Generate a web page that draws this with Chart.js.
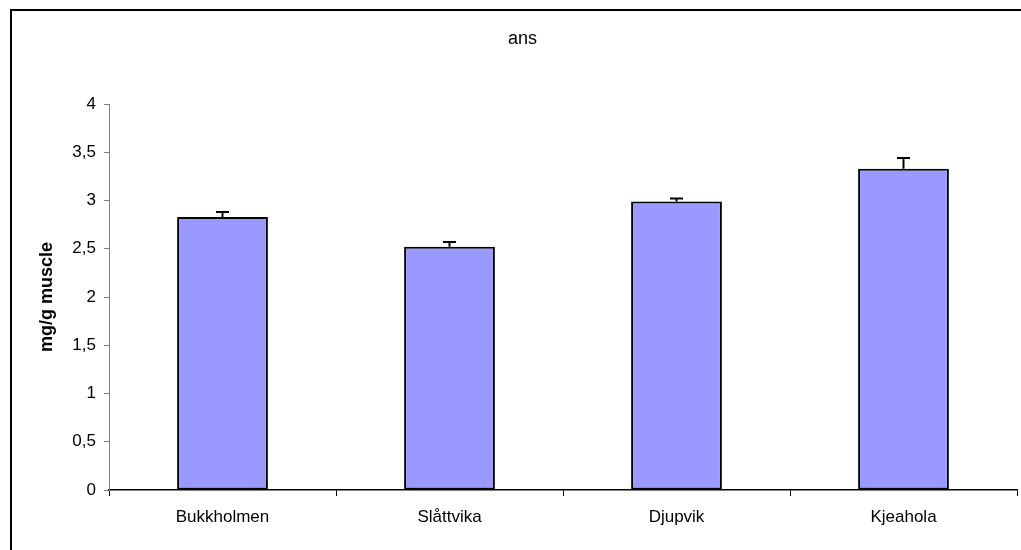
<!DOCTYPE html>
<html>
<head>
<meta charset="utf-8">
<script src="https://cdn.jsdelivr.net/npm/chart.js@4/dist/chart.umd.min.js"></script>
<style>
    html, body { margin: 0; padding: 0; background: #fff; }
    canvas { display: block; }
</style>
</head>
<body>
<canvas id="chart" width="1021" height="550"></canvas>
<script>
// data
var sites = ['Bukkholmen', 'Slåttvika', 'Djupvik', 'Kjeahola'];
var ansValues = [2.83, 2.52, 2.99, 3.33];
var ansErrors = [0.05, 0.05, 0.03, 0.11];
var yMin = 0, yMax = 4, yStep = 0.5;

var FONT = 'Arial, "Liberation Sans", sans-serif';

// outer frame (only the top and left edges are inside the picture)
var framePlugin = {
    id: 'frame',
    beforeDraw: function (chart) {
        var ctx = chart.ctx;
        ctx.save();
        ctx.strokeStyle = '#000';
        ctx.lineWidth = 2;
        ctx.beginPath();
        ctx.moveTo(11, chart.height);
        ctx.lineTo(11, 10);
        ctx.lineTo(chart.width, 10);
        ctx.stroke();
        ctx.restore();
    }
};

// upper error bars, placed through the y scale
var errorBarPlugin = {
    id: 'errorBars',
    afterDatasetsDraw: function (chart) {
        var ctx = chart.ctx;
        var yScale = chart.scales.y;
        var meta = chart.getDatasetMeta(0);
        ctx.save();
        ctx.strokeStyle = '#000';
        ctx.lineWidth = 2;
        meta.data.forEach(function (bar, i) {
            var top = yScale.getPixelForValue(ansValues[i] + ansErrors[i]);
            ctx.beginPath();
            ctx.moveTo(bar.x, bar.y);
            ctx.lineTo(bar.x, top);
            ctx.moveTo(bar.x - 6.5, top);
            ctx.lineTo(bar.x + 6.5, top);
            ctx.stroke();
        });
        ctx.restore();
    }
};

new Chart(document.getElementById('chart').getContext('2d'), {
    type: 'bar',
    data: {
        labels: sites,
        datasets: [{
            label: 'ans',
            data: ansValues,
            backgroundColor: '#9999FF',
            borderColor: '#000',
            borderWidth: 2,
            borderSkipped: false,
            barPercentage: 0.4,
            categoryPercentage: 1
        }]
    },
    options: {
        responsive: false,
        animation: false,
        layout: { padding: { left: 28, right: 4, top: 0, bottom: 0 } },
        plugins: {
            legend: { display: false },
            tooltip: { enabled: false },
            title: {
                display: true,
                text: 'ans',
                color: '#000',
                font: { family: FONT, size: 18, weight: 'normal', lineHeight: 1.2 },
                padding: { top: 28.2, bottom: 54.2 }
            }
        },
        scales: {
            x: {
                afterFit: function (scale) { scale.height = 60; },
                grid: {
                    offset: true,
                    drawOnChartArea: false,
                    tickLength: 6,
                    color: '#000'
                },
                border: { display: true, color: '#000', width: 1.5 },
                ticks: {
                    color: '#000',
                    padding: 11,
                    font: { family: FONT, size: 17 }
                }
            },
            y: {
                min: yMin,
                max: yMax,
                afterFit: function (scale) { scale.width = 81; },
                grid: {
                    drawOnChartArea: false,
                    tickLength: 5,
                    color: '#808080'
                },
                border: { display: true, color: '#808080', width: 1 },
                ticks: {
                    stepSize: yStep,
                    color: '#000',
                    padding: 8,
                    font: { family: FONT, size: 17 },
                    callback: function (v) { return String(v).replace('.', ','); }
                },
                title: {
                    display: true,
                    text: 'mg/g muscle',
                    color: '#000',
                    font: { family: FONT, size: 18, weight: 'bold', lineHeight: 1.2 },
                    padding: { top: 8.2, bottom: 0 }
                }
            }
        }
    },
    plugins: [framePlugin, errorBarPlugin]
});
</script>
</body>
</html>
